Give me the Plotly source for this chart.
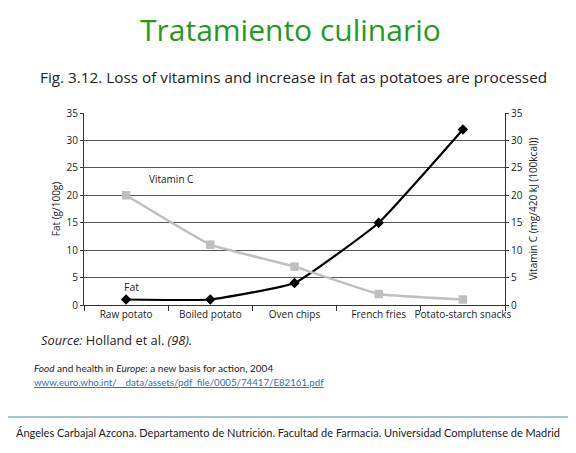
import plotly.graph_objects as go

categories = ["Raw potato", "Boiled potato", "Oven chips", "French fries", "Potato-starch snacks"]
fat = [1, 1, 4, 15, 32]
vitamin_c = [20, 11, 7, 2, 1]
tick_vals = [0, 5, 10, 15, 20, 25, 30, 35]

chart_font = "Open Sans"
W, H = 576, 453
OFF = 8  # page body margin offsets the figure by this much
L, T = 84 - OFF, 113 - OFF
PW, PH = 421, 192
R, B = W - L - PW, H - T - PH

fig = go.Figure()

fig.add_trace(go.Scatter(
    x=categories, y=vitamin_c, yaxis="y2", mode="lines+markers",
    line=dict(color="#bfbfbf", width=2.5, shape="spline", smoothing=0.3),
    marker=dict(symbol="square", size=8.5, color="#bfbfbf"),
    cliponaxis=False, showlegend=False,
))
fig.add_trace(go.Scatter(
    x=categories, y=fat, mode="lines+markers",
    line=dict(color="black", width=2.2, shape="spline", smoothing=0.35),
    marker=dict(symbol="diamond", size=8, color="black"),
    cliponaxis=False, showlegend=False,
))

axis_font = dict(family=chart_font, size=10, color="#222")

fig.update_layout(
    width=W, height=H,
    margin=dict(l=L, r=R, t=T, b=B),
    paper_bgcolor="white", plot_bgcolor="white",
    font=dict(family=chart_font, color="#222"),
    xaxis=dict(
        type="category", tickson="boundaries", ticks="outside", ticklen=5,
        tickcolor="#333", showline=True, linecolor="#333", linewidth=1,
        showgrid=False, tickfont=axis_font, range=[-0.5, 4.5],
        tickangle=0, automargin=False,
    ),
    yaxis=dict(
        range=[0, 35], tickvals=tick_vals, ticks="outside", ticklen=3,
        tickcolor="#333", showline=True, linecolor="#333", linewidth=1,
        gridcolor="#555", gridwidth=1, zeroline=False, tickfont=axis_font,
        automargin=False,
        title=dict(text="Fat (g/100g)", font=axis_font, standoff=4),
    ),
    yaxis2=dict(
        range=[0, 35], tickvals=tick_vals, ticks="outside", ticklen=3,
        tickcolor="#333", showline=True, linecolor="#333", linewidth=1,
        overlaying="y", side="right", showgrid=False, zeroline=False,
        tickfont=axis_font, automargin=False,
        title=dict(text="Vitamin C (mg/420 kJ (100kcal))", font=axis_font, standoff=8),
    ),
)

fig.add_annotation(x=0.25, y=23, xref="x", yref="y", text="Vitamin C", showarrow=False,
                   font=dict(family=chart_font, size=10, color="#222"), xanchor="left")
fig.add_annotation(x=-0.05, y=3.2, xref="x", yref="y", text="Fat", showarrow=False,
                   font=dict(family=chart_font, size=10.5, color="#222"), xanchor="left")


def to_paper(px, py):
    # page pixel (as seen in the window) -> paper coords of the plot area
    px, py = px - OFF, py - OFF
    return (px - L) / PW, (T + PH - py) / PH


def page(text, px, py, size, color="#222", family=chart_font, xanchor="left"):
    x, y = to_paper(px, py)
    fig.add_annotation(x=x, y=y, xref="paper", yref="paper", text=text,
                       showarrow=False, xanchor=xanchor, yanchor="middle",
                       font=dict(family=family, size=size, color=color))


page("Tratamiento culinario", 290, 29, 30, color="#1f9a1f", xanchor="center")
page("Fig. 3.12. Loss of vitamins and increase in fat as potatoes are processed", 293, 77, 15.3, xanchor="center")
page("<i>Source:</i> Holland et al. <i>(98).</i>", 39, 340, 12.8)
page("<i>Food</i> and health in <i>Europe</i>: a new basis for action, 2004", 32, 368, 10, family="Lato")
page("<u>www.euro.who.int/__data/assets/pdf_file/0005/74417/E82161.pdf</u>", 32, 382, 9.7,
     color="#2f6fb8", family="Lato")
page("Ángeles Carbajal Azcona. Departamento de Nutrición. Facultad de Farmacia. Universidad Complutense de Madrid",
     14, 432, 11, family="Lato")

x0, yl = to_paper(0, 417)
x1, _ = to_paper(W + OFF, 417)
fig.add_shape(type="line", xref="paper", yref="paper", x0=x0, x1=x1, y0=yl, y1=yl,
              line=dict(color="#a7c4cc", width=2))

fig.write_html("out.html")
